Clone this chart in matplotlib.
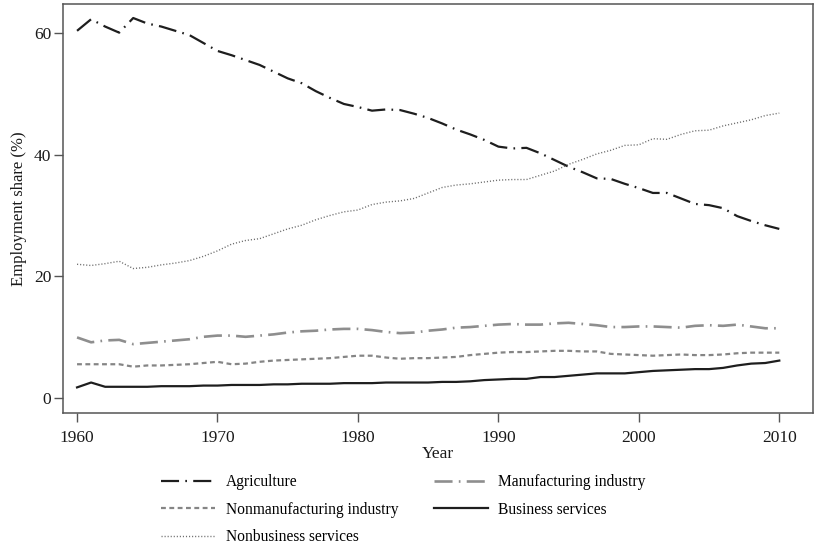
import matplotlib
matplotlib.use("Agg")
import matplotlib.pyplot as plt
import numpy as np

plt.rcParams['font.family'] = ['Liberation Serif', 'DejaVu Serif']
plt.rcParams['lines.scale_dashes'] = False

years = list(range(1960, 2011))

agriculture = [60.3, 62.2, 61.0, 60.0, 62.4, 61.5, 61.0, 60.3, 59.6, 58.3,
               57.0, 56.3, 55.5, 54.7, 53.6, 52.5, 51.7, 50.4, 49.3, 48.3,
               47.8, 47.2, 47.4, 47.3, 46.7, 46.0, 45.1, 44.1, 43.3, 42.4,
               41.3, 41.0, 41.1, 40.2, 39.1, 38.0, 37.1, 36.1, 36.0, 35.2,
               34.5, 33.7, 33.7, 32.8, 31.9, 31.7, 31.2, 29.9, 29.1, 28.4, 27.8]

manufacturing = [10.0, 9.2, 9.5, 9.6, 8.9, 9.1, 9.3, 9.5, 9.7, 10.1,
                 10.3, 10.3, 10.1, 10.3, 10.5, 10.8, 11.0, 11.1, 11.3, 11.4,
                 11.4, 11.2, 10.9, 10.7, 10.8, 11.1, 11.3, 11.6, 11.7, 11.9,
                 12.1, 12.2, 12.1, 12.1, 12.3, 12.4, 12.2, 12.0, 11.7, 11.7,
                 11.8, 11.8, 11.7, 11.6, 11.9, 12.0, 11.9, 12.1, 11.8, 11.5, 11.5]

nonmanufacturing = [5.6, 5.6, 5.6, 5.6, 5.2, 5.4, 5.4, 5.5, 5.6, 5.8,
                    6.0, 5.6, 5.7, 6.0, 6.2, 6.3, 6.4, 6.5, 6.6, 6.8,
                    7.0, 7.0, 6.7, 6.5, 6.6, 6.6, 6.7, 6.8, 7.1, 7.3,
                    7.5, 7.6, 7.6, 7.7, 7.8, 7.8, 7.7, 7.7, 7.3, 7.2,
                    7.1, 7.0, 7.1, 7.2, 7.1, 7.1, 7.2, 7.4, 7.5, 7.5, 7.5]

business = [1.8, 2.6, 1.9, 1.9, 1.9, 1.9, 2.0, 2.0, 2.0, 2.1,
            2.1, 2.2, 2.2, 2.2, 2.3, 2.3, 2.4, 2.4, 2.4, 2.5,
            2.5, 2.5, 2.6, 2.6, 2.6, 2.6, 2.7, 2.7, 2.8, 3.0,
            3.1, 3.2, 3.2, 3.5, 3.5, 3.7, 3.9, 4.1, 4.1, 4.1,
            4.3, 4.5, 4.6, 4.7, 4.8, 4.8, 5.0, 5.4, 5.7, 5.8, 6.2]

nonbusiness = [22.0, 21.8, 22.1, 22.5, 21.3, 21.5, 21.9, 22.2, 22.6, 23.3,
               24.2, 25.3, 25.9, 26.2, 27.0, 27.8, 28.4, 29.3, 30.0, 30.6,
               30.9, 31.8, 32.2, 32.4, 32.8, 33.7, 34.6, 35.0, 35.2, 35.5,
               35.8, 35.9, 35.9, 36.6, 37.3, 38.4, 39.2, 40.1, 40.7, 41.5,
               41.6, 42.6, 42.5, 43.3, 43.9, 44.0, 44.7, 45.2, 45.7, 46.4, 46.8]

labels = ["Agriculture", "Manufacturing industry", "Nonmanufacturing industry",
          "Business services", "Nonbusiness services"]
xticks = [1960, 1970, 1980, 1990, 2000, 2010]
yticks = [0, 20, 40, 60]

fig = plt.figure(figsize=(8.14, 5.49), dpi=100)
ax = fig.add_axes([63/814, 1-413/549, 750/814, (413-4)/549])

ld = (0, (13, 4.5, 1.2, 4.5))
h_ag, = ax.plot(years, agriculture, color='#1e1e1e', lw=1.6, linestyle=ld, label=labels[0])
h_mf, = ax.plot(years, manufacturing, color='#8e8e8e', lw=1.9, linestyle=ld, label=labels[1])
h_nm, = ax.plot(years, nonmanufacturing, color='#858585', lw=1.6, linestyle=(0, (3.5, 2.5)), label=labels[2])
h_bs, = ax.plot(years, business, color='#1e1e1e', lw=1.6, linestyle='-', label=labels[3])
h_nb, = ax.plot(years, nonbusiness, color='#6e6e6e', lw=1.0, linestyle=(0, (0.8, 1.4)), label=labels[4])

ax.set_xlim(1959.0, 2012.4)
ax.set_ylim(-2.4, 64.7)
ax.set_xticks(xticks)
ax.set_yticks(yticks)
for s in ax.spines.values():
    s.set_color('#555555')
    s.set_linewidth(1.1)
ax.tick_params(direction='out', length=6.5, width=1.0, color='#555555', labelsize=12.5, labelcolor='#1a1a1a')
ax.tick_params(axis='x', pad=5.5)
ax.tick_params(axis='y', pad=2)
ax.set_xlabel("Year", fontsize=12.5, color='#1a1a1a', labelpad=0.5)
ax.set_ylabel("Employment share (%)", fontsize=12, color='#1a1a1a', labelpad=5)

handles = [h_ag, h_nm, h_nb, h_mf, h_bs]
fig.legend(handles, [h.get_label() for h in handles], ncol=2, frameon=False,
           loc='upper left', bbox_to_anchor=(161/814, 1-474/549), fontsize=11.2,
           handlelength=3.5, handletextpad=0.65, columnspacing=2.3, labelspacing=0.75,
           borderaxespad=0, borderpad=0)

fig.savefig("out.png", dpi=100)
